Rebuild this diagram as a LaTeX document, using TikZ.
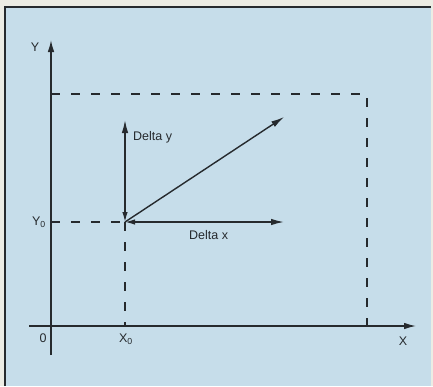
\documentclass[tikz,border=0pt]{standalone}
\usepackage{fontspec}
\setmainfont{Liberation Sans}
\usetikzlibrary{arrows.meta, positioning}
\definecolor{panelblue}{RGB}{198,221,234}
\definecolor{inkgray}{RGB}{38,42,46}
\definecolor{papercream}{RGB}{236,236,228}

\begin{document}
\begin{tikzpicture}[
    x=1pt, y=-1pt,
    axis/.style={-{Latex[length=12pt,width=6.5pt]}, inkgray, line width=1.3pt},
    vec/.style={-{Latex[length=13pt,width=6.5pt]}, inkgray, line width=1.4pt},
    twovec/.style={{Latex[length=10pt,width=5.5pt]}-{Latex[length=13pt,width=6.5pt]}, inkgray, line width=1.4pt},
    guide/.style={dash pattern=on 9pt off 11pt, inkgray, line width=1.4pt},
    lbl/.style={font=\fontsize{12.5}{14}\selectfont, text=inkgray, inner sep=1pt}
]
\useasboundingbox (0,0) rectangle (433,386);

% Panel
\fill[papercream] (0,0) rectangle (433,386);
\fill[panelblue] (5,7) rectangle (431,386);
\draw[inkgray, line width=1.6pt] (5,386) -- (5,7) -- (431,7);

% Axes
\coordinate (xstart) at (29,326);
\coordinate (xend) at (416,326);
\coordinate (ystart) at (51,355);
\coordinate (yend) at (51,40);
\draw[axis] (xstart) -- (xend);
\draw[axis] (ystart) -- (yend);

% Points
\coordinate (origin) at (125,222);
\coordinate (dxend) at (284,222);
\coordinate (dyend) at (125,120);
\coordinate (vecend) at (284,117);
\coordinate (yzero) at (51,222);
\coordinate (xzero) at (125,326);
\coordinate (ytop) at (51,94);
\coordinate (corner) at (367,94);
\coordinate (xfar) at (367,326);

% Dashed guides
\draw[guide] (yzero) -- (origin);
\draw[guide] (origin) -- (xzero);
\draw[guide] (ytop) -- (corner) -- (xfar);

% Vectors
\draw[twovec] (origin) -- (dxend);
\draw[twovec] (origin) -- (dyend);
\draw[vec] (origin) -- (vecend);

% Labels
\node[lbl] (ylabel) at (35,47) {Y};
\node[lbl] (xlabel) at (403,341) {X};
\node[lbl] (zero) at (43,338) {0};
\node[lbl] (xzerolabel) at (126,339) {X\textsubscript{0}};
\node[lbl] (yzerolabel) at (39,222) {Y\textsubscript{0}};
\node[lbl, anchor=west] (dylabel) at (132,137) {Delta y};
\node[lbl, anchor=west] (dxlabel) at (188,235) {Delta x};
\end{tikzpicture}
\end{document}
